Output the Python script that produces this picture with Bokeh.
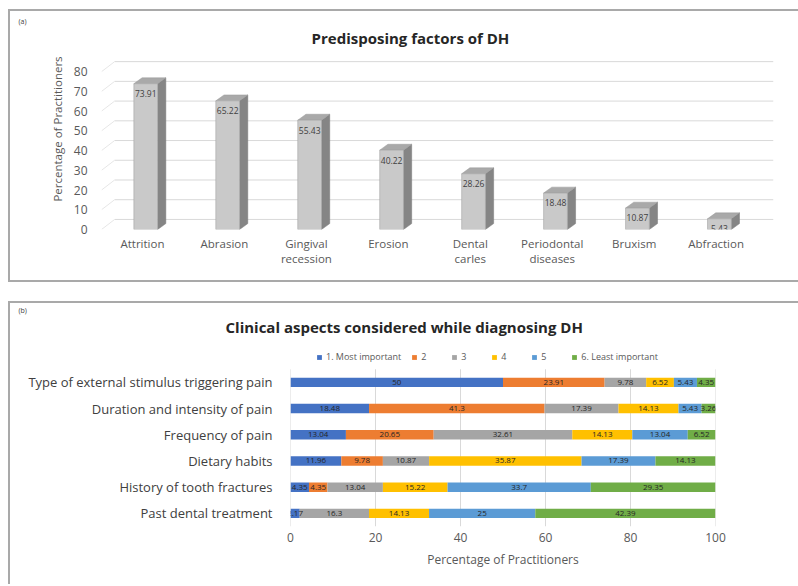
from bokeh.plotting import figure
from bokeh.models import (ColumnDataSource, Range1d, FixedTicker, LabelSet, Label,
                          Title, Legend, LegendItem)
from bokeh.embed import file_html
from bokeh.resources import INLINE
from bokeh.core.properties import value

# ---------------- data ----------------
factors_a = ["Attrition", "Abrasion", "Gingival\nrecession", "Erosion", "Dental\ncarles",
             "Periodontal\ndiseases", "Bruxism", "Abfraction"]
values_a = [73.91, 65.22, 55.43, 40.22, 28.26, 18.48, 10.87, 5.43]
yticks_a = [0, 10, 20, 30, 40, 50, 60, 70, 80]

rows_b = ["Type of external stimulus triggering pain", "Duration and intensity of pain",
          "Frequency of pain", "Dietary habits", "History of tooth fractures",
          "Past dental treatment"]
series_b = ["1. Most important", "2", "3", "4", "5", "6. Least important"]
rank1 = [50, 18.48, 13.04, 11.96, 4.35, 2.17]
rank2 = [23.91, 41.3, 20.65, 9.78, 4.35, 0]
rank3 = [9.78, 17.39, 32.61, 10.87, 13.04, 16.3]
rank4 = [6.52, 14.13, 14.13, 35.87, 15.22, 14.13]
rank5 = [5.43, 5.43, 13.04, 17.39, 33.7, 25]
rank6 = [4.35, 3.26, 6.52, 14.13, 29.35, 42.39]
xticks_b = [0, 20, 40, 60, 80, 100]

FONT = "Open Sans"
W = 790
BORDER = "2px solid #a9a9a9"

# ---------------- (a) 3D-like column chart ----------------
pa = figure(width=W, height=273, output_backend="svg", toolbar_location=None,
            x_range=Range1d(-0.5, 7.7), y_range=Range1d(0, 101.9),
            min_border_left=91, min_border_right=27, min_border_top=17, min_border_bottom=55)
pa.title = None
pa.outline_line_color = None
pa.xgrid.grid_line_color = None
pa.ygrid.grid_line_color = None

# back-wall gridlines (3D effect offsets)
bdx, bdy = 0.16, 5.1
pa.segment(x0=[-0.5 + bdx] * len(yticks_a), x1=[7.7] * len(yticks_a),
           y0=[t + bdy for t in yticks_a], y1=[t + bdy for t in yticks_a],
           line_color="#d9d9d9", line_width=1)
pa.segment(x0=[-0.5] * len(yticks_a), x1=[-0.5 + bdx] * len(yticks_a),
           y0=yticks_a, y1=[t + bdy for t in yticks_a],
           line_color="#e6e6e6", line_width=1)

xs = list(range(len(values_a)))
c, w, dx, dy = 0.04, 0.29, 0.1, 3.0
left = [x + c - w / 2 for x in xs]
right = [x + c + w / 2 for x in xs]
side_xs = [[r, r + dx, r + dx, r] for r in right]
side_ys = [[0, dy, v + dy, v] for v in values_a]
top_xs = [[l, l + dx, r + dx, r] for l, r in zip(left, right)]
top_ys = [[v, v + dy, v + dy, v] for v in values_a]
pa.patches(side_xs, side_ys, fill_color="#858585", line_color="#7a7a7a", line_width=0.5)
pa.patches(top_xs, top_ys, fill_color="#a9a9a9", line_color="#9a9a9a", line_width=0.5)
pa.quad(left=left, right=right, bottom=0, top=values_a,
        fill_color="#c9c9c9", line_color="#a5a5a5", line_width=0.6)

lab_src = ColumnDataSource(dict(x=[x + c for x in xs], y=[v - 5 for v in values_a],
                                t=[f"{v:g}" for v in values_a]))
pa.add_layout(LabelSet(x="x", y="y", text="t", source=lab_src, text_align="center",
                       text_baseline="middle", text_font_size="8.5px", text_color="#404040",
                       text_font=value(FONT)))

pa.xaxis.ticker = FixedTicker(ticks=xs)
pa.xaxis.major_label_overrides = {i: f for i, f in enumerate(factors_a)}
pa.yaxis.ticker = FixedTicker(ticks=yticks_a)
for ax in (pa.xaxis, pa.yaxis):
    ax.axis_line_color = None
    ax.major_tick_line_color = None
    ax.minor_tick_line_color = None
    ax.major_label_text_font = FONT
    ax.major_label_text_color = "#595959"
pa.xaxis.major_label_text_font_size = "11.5px"
pa.xaxis.major_label_text_line_height = 1.05
pa.xaxis.major_label_standoff = 0
pa.yaxis.major_label_text_font_size = "12px"
pa.yaxis.major_label_standoff = 8
pa.yaxis.axis_label = "Percentage of Practitioners"
pa.yaxis.axis_label_text_font = FONT
pa.yaxis.axis_label_text_font_style = "normal"
pa.yaxis.axis_label_text_font_size = "11.5px"
pa.yaxis.axis_label_text_color = "#595959"
pa.yaxis.axis_label_standoff = 6

pa.add_layout(Label(x=3.27, y=97.3, text="Predisposing factors of DH", text_font=FONT,
                    text_font_size="15px", text_font_style="bold", text_color="#262626",
                    text_align="center", text_baseline="middle"))
pa.add_layout(Title(text="(a)", align="left", offset=-83, text_font=FONT, standoff=6,
                    text_font_size="7px", text_font_style="normal", text_color="#404040"),
              "above")
pa.styles = {"margin-left": "8px", "margin-top": "9px", "border-left": BORDER,
             "border-top": BORDER, "border-bottom": BORDER}

# ---------------- (b) stacked horizontal bars ----------------
ypos_b = [len(rows_b) - 1 - i for i in range(len(rows_b))]   # first row on top
pb = figure(width=W, height=283, output_backend="svg", toolbar_location=None,
            y_range=Range1d(-0.5, 6.75), x_range=Range1d(0, 100),
            min_border_left=280, min_border_right=85, min_border_top=20, min_border_bottom=60)
pb.title = None
pb.outline_line_color = None
pb.ygrid.grid_line_color = None
pb.xgrid.grid_line_color = None

# vertical gridlines spanning the bar rows only
pb.segment(x0=xticks_b, x1=xticks_b, y0=[min(ypos_b) - 0.5] * len(xticks_b),
           y1=[max(ypos_b) + 0.5] * len(xticks_b), line_color="#d9d9d9", line_width=1)

colors_b = ["#4472C4", "#ED7D31", "#A5A5A5", "#FFC000", "#5B9BD5", "#70AD47"]
keys = ["r1", "r2", "r3", "r4", "r5", "r6"]
src_b = ColumnDataSource(dict(y=ypos_b, r1=rank1, r2=rank2, r3=rank3, r4=rank4,
                              r5=rank5, r6=rank6))
rends = pb.hbar_stack(keys, y="y", height=0.36, color=colors_b, source=src_b, line_width=0)

lx, ly, lt = [], [], []
for i, yp in enumerate(ypos_b):
    cum = 0
    for arr in (rank1, rank2, rank3, rank4, rank5, rank6):
        v = arr[i]
        if v > 0:
            lx.append(cum + v / 2)
            ly.append(yp)
            lt.append(f"{v:g}")
        cum += v
pb.add_layout(LabelSet(x="x", y="y", text="t",
                       source=ColumnDataSource(dict(x=lx, y=ly, t=lt)),
                       text_align="center", text_baseline="middle", text_font_size="8px",
                       text_color="#262626", text_font=value(FONT)))

legend = Legend(items=[LegendItem(label=s, renderers=[r]) for s, r in zip(series_b, rends)],
                orientation="horizontal", location=(26, 163), border_line_color=None,
                background_fill_alpha=0, label_text_font=FONT, label_text_font_size="9px",
                label_text_color="#595959", glyph_width=6, glyph_height=6,
                label_standoff=4, spacing=10, padding=0, margin=0)
pb.add_layout(legend, "center")
pb.add_layout(Title(text="Clinical aspects considered while diagnosing  DH", align="left",
                    offset=-65, text_font=FONT, text_font_size="15px",
                    text_font_style="bold", text_color="#262626", standoff=0), "above")
pb.add_layout(Title(text="(b)", align="left", offset=-272, text_font=FONT, standoff=0,
                    text_font_size="7px", text_font_style="normal", text_color="#404040"),
              "above")

pb.xaxis.ticker = FixedTicker(ticks=xticks_b)
pb.yaxis.ticker = FixedTicker(ticks=ypos_b)
pb.yaxis.major_label_overrides = {yp: r for yp, r in zip(ypos_b, rows_b)}
for ax in (pb.xaxis, pb.yaxis):
    ax.axis_line_color = None
    ax.major_tick_line_color = None
    ax.minor_tick_line_color = None
    ax.major_label_text_font = FONT
    ax.major_label_text_color = "#595959"
pb.xaxis.major_label_text_font_size = "12px"
pb.yaxis.major_label_text_font_size = "13px"
pb.yaxis.major_label_text_color = "#404040"
pb.yaxis.major_label_standoff = 12
pb.xaxis.major_label_standoff = 0
pb.xaxis.axis_label = "Percentage of Practitioners"
pb.xaxis.axis_label_text_font = FONT
pb.xaxis.axis_label_text_font_style = "normal"
pb.xaxis.axis_label_text_font_size = "12px"
pb.xaxis.axis_label_text_color = "#595959"
pb.xaxis.axis_label_standoff = 6
pb.styles = {"margin-left": "8px", "margin-top": "19px", "border-left": BORDER,
             "border-top": BORDER}

open("out.html", "w").write(file_html([pa, pb], INLINE))
